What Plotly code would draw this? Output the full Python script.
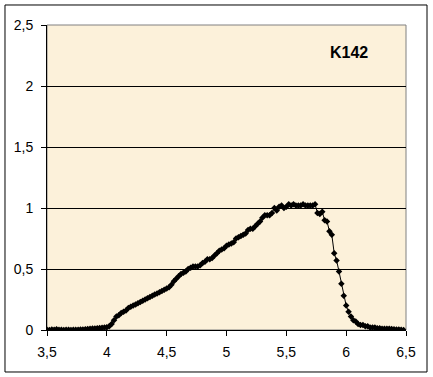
import plotly.graph_objects as go

x_start = 3.5
x_step = 0.02
y_vals = [
    0.003, 0.000, 0.004, 0.002, 0.006, 0.003, 0.002, 0.000, 0.002, 0.003,
    0.001, 0.002, 0.003, 0.002, 0.004, 0.005, 0.006, 0.008, 0.010, 0.012,
    0.013, 0.015, 0.016, 0.018, 0.020, 0.022, 0.030, 0.050, 0.080, 0.110,
    0.120, 0.140, 0.150, 0.160, 0.180, 0.190, 0.200, 0.210, 0.220, 0.230,
    0.240, 0.250, 0.260, 0.270, 0.280, 0.290, 0.300, 0.310, 0.320, 0.330,
    0.340, 0.350, 0.370, 0.400, 0.420, 0.440, 0.460, 0.470, 0.480, 0.500,
    0.510, 0.520, 0.520, 0.520, 0.530, 0.550, 0.560, 0.580, 0.580, 0.590,
    0.610, 0.630, 0.650, 0.660, 0.670, 0.690, 0.700, 0.710, 0.720, 0.750,
    0.760, 0.770, 0.780, 0.790, 0.820, 0.830, 0.830, 0.850, 0.870, 0.890,
    0.920, 0.940, 0.940, 0.940, 0.960, 1.000, 0.980, 1.010, 1.020, 1.000,
    1.010, 1.030, 1.020, 1.030, 1.020, 1.020, 1.020, 1.030, 1.020, 1.020,
    1.020, 1.020, 1.030, 0.960, 0.950, 0.970, 0.900, 0.890, 0.810, 0.780,
    0.630, 0.570, 0.480, 0.380, 0.280, 0.200, 0.150, 0.110, 0.080, 0.070,
    0.050, 0.040, 0.040, 0.030, 0.030, 0.020, 0.020, 0.020, 0.015, 0.015,
    0.010, 0.010, 0.010, 0.010, 0.008, 0.006, 0.005, 0.004, 0.003, 0.000,
]
x_vals = [round(x_start + i * x_step, 2) for i in range(len(y_vals))]

x_ticks = [3.5, 4, 4.5, 5, 5.5, 6, 6.5]
y_ticks = [0, 0.5, 1, 1.5, 2, 2.5]
label = "K142"

fig = go.Figure()
fig.add_trace(go.Scatter(
    x=x_vals, y=y_vals, mode="lines+markers",
    line=dict(color="black", width=1),
    marker=dict(symbol="diamond", size=5, color="black"),
    showlegend=False,
))

fig.update_layout(
    width=433, height=377,
    margin=dict(l=47, r=27, t=25, b=47),
    paper_bgcolor="white",
    plot_bgcolor="#FCF1DA",
    separators=",.",
    font=dict(family="Liberation Sans, Arial", size=14, color="black"),
    xaxis=dict(range=[3.5, 6.5], tickvals=x_ticks, showgrid=False,
               showline=True, linecolor="black", linewidth=1,
               ticks="outside", ticklen=5, tickcolor="black", zeroline=False,
               ticklabelstandoff=4),
    yaxis=dict(range=[0, 2.5], tickvals=y_ticks, showgrid=True,
               gridcolor="black", gridwidth=1,
               showline=True, linecolor="black", linewidth=1,
               ticks="outside", ticklen=5, tickcolor="black", zeroline=False,
               ticklabelstandoff=5),
    shapes=[
        dict(type="rect", xref="paper", yref="paper", x0=0, x1=1, y0=0, y1=1,
             line=dict(color="#808080", width=1), layer="below"),
        dict(type="rect", xref="paper", yref="paper", x0=-0.117, x1=1.0585,
             y0=-0.1377, y1=1.0656, line=dict(color="black", width=1)),
    ],
    annotations=[dict(text="<b>" + label + "</b>", xref="paper", yref="paper",
                      x=(349 - 47) / 359, y=(330 - 52) / 305, showarrow=False,
                      xanchor="center", yanchor="middle",
                      font=dict(size=16, family="Liberation Sans, Arial"))],
)

fig.write_html("out.html", config={"displayModeBar": False},
               post_script="document.body.style.margin='0';")
